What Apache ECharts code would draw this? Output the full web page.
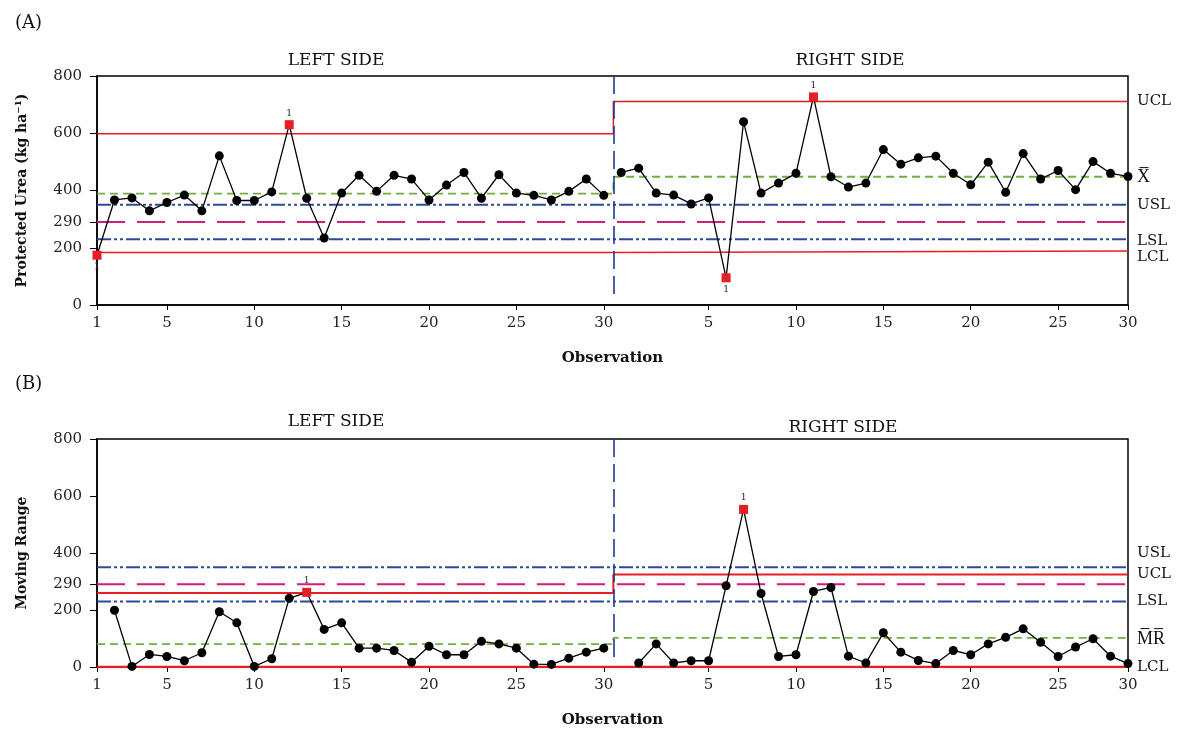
<!DOCTYPE html>
<html lang="en">
<head>
<meta charset="utf-8">
<script src="https://cdn.jsdelivr.net/npm/echarts@6/dist/echarts.min.js"></script>
<style>
  html, body { margin: 0; padding: 0; background: #fff; }
  #chart { width: 1179px; height: 729px; }
</style>
</head>
<body>
<div id="chart"></div>
<script>
// (A) protected urea, individual observations, left / right side
var leftObs  = [174, 367, 374, 329, 358, 384, 329, 521, 365, 365, 395, 630, 373, 234, 391,
                453, 397, 453, 440, 367, 419, 463, 373, 455, 391, 383, 367, 397, 440, 383];
var rightObs = [463, 478, 391, 384, 353, 374, 95, 640, 391, 426, 460, 727, 448, 412, 426,
                543, 492, 514, 520, 460, 420, 499, 394, 529, 440, 470, 403, 501, 460, 449];
// (B) moving ranges, start at observation 2 of each side
var leftMR  = [199, 2, 44, 37, 22, 50, 194, 155, 2, 29, 241, 262, 132, 155, 66,
               66, 58, 17, 73, 43, 43, 90, 81, 66, 10, 9, 31, 52, 66];
var rightMR = [14, 81, 14, 22, 22, 285, 553, 258, 37, 43, 265, 279, 38, 14, 120,
               52, 23, 12, 58, 43, 81, 104, 134, 87, 37, 70, 99, 38, 12];

// out of control observations (number on that side)
var flagsA = { left: [1, 12], right: [7, 12] };
var flagsB = { left: [13], right: [8] };

// control limits  [left, right]
var limA = { ucl: [598, 711], cl: [389, 448], lcl: [183, 189] };
var limB = { ucl: [260, 325], cl: [80, 102], lcl: [0, 0] };
// spec limits, same on both sides
var USL = 350, TARGET = 290, LSL = 230;

// axis ticks
var yTicks = [0, 200, 290, 400, 600, 800];
var xTickPos  = [1, 5, 10, 15, 20, 25, 30, 36, 41, 46, 51, 56, 60];
var xTickText = ['1', '5', '10', '15', '20', '25', '30', '5', '10', '15', '20', '25', '30'];

var SPLIT = 30.55;   // where the left side stops and the right starts
var XMAX = 60;
var FONT = '"DejaVu Serif", "Liberation Serif", serif';
var FONT_BAR = '"Liberation Serif", "DejaVu Serif", serif';  // overline renders cleaner here
var RED = '#e61e25', GREEN = '#72ad3e', BLUE = '#2d4a9a', PINK = '#d81b78', NAVY = '#1c3b8c';

var chart = echarts.init(document.getElementById('chart'));

function pointData(vals, firstObs, offset, flags, center) {
    return vals.map(function (v, i) {
        var obs = firstObs + i;
        var d = { value: [obs + offset, v] };
        if (flags.indexOf(obs) >= 0) {
            d.symbol = 'rect';
            d.itemStyle = { color: RED };
            d.label = {
                show: true, formatter: '1', position: v > center ? 'top' : 'bottom',
                distance: 2, fontSize: 10, color: '#333', fontFamily: FONT
            };
        }
        return d;
    });
}

function dataSeries(gi, vals, firstObs, offset, flags, center) {
    return {
        type: 'line', xAxisIndex: gi, yAxisIndex: gi, z: 5,
        data: pointData(vals, firstObs, offset, flags, center),
        symbol: 'circle', symbolSize: 9,
        itemStyle: { color: '#000' },
        lineStyle: { color: '#000', width: 1.3 },
        silent: true, animation: false
    };
}

function endLbl(name, dy, font, size) {
    return {
        show: true, formatter: name, color: '#111', fontSize: size || 15, fontFamily: font || FONT,
        distance: 9, offset: [0, dy || 0]
    };
}

function stepLine(gi, pair, color, dash, width, name, dy, font, size) {
    var s = {
        type: 'line', xAxisIndex: gi, yAxisIndex: gi, z: 3,
        data: [[1, pair[0]], [SPLIT, pair[0]], [SPLIT, pair[1]], [XMAX, pair[1]]],
        symbol: 'none', silent: true, animation: false,
        lineStyle: { color: color, type: dash, width: width }
    };
    if (name) s.endLabel = endLbl(name, dy, font, size);
    return s;
}

function flatLine(gi, v, color, dash, name, dy) {
    return stepLine(gi, [v, v], color, dash, 2, name, dy);
}

var DASHDOT = [14, 3, 3, 3, 3, 3];
var series = [];
// panel A
series.push(flatLine(0, USL, BLUE, DASHDOT, 'USL', 0));
series.push(flatLine(0, TARGET, PINK, [28, 12], null));
series.push(flatLine(0, LSL, BLUE, DASHDOT, 'LSL', 2));
series.push(stepLine(0, limA.ucl, RED, 'solid', 1.5, 'UCL', 0));
series.push(stepLine(0, limA.cl, GREEN, [8, 5], 1.8, 'X\u0305', 1, FONT_BAR, 18));
series.push(stepLine(0, limA.lcl, RED, 'solid', 1.5, 'LCL', 6));
series.push(dataSeries(0, leftObs, 1, 0, flagsA.left, limA.cl[0]));
series.push(dataSeries(0, rightObs, 1, 30, flagsA.right, limA.cl[1]));
// panel B
series.push(flatLine(1, USL, BLUE, DASHDOT, 'USL', -14));
series.push(flatLine(1, TARGET, PINK, [28, 12], null));
series.push(flatLine(1, LSL, BLUE, DASHDOT, 'LSL', 0));
series.push(stepLine(1, limB.ucl, RED, 'solid', 2, 'UCL', 0));
series.push(stepLine(1, limB.cl, GREEN, [8, 5], 1.8, 'M\u0305R\u0305', 1, FONT_BAR, 18));
series.push(stepLine(1, limB.lcl, RED, 'solid', 2.5, 'LCL', 0));
series.push(dataSeries(1, leftMR, 2, 0, flagsB.left, limB.cl[0]));
series.push(dataSeries(1, rightMR, 2, 30, flagsB.right, limB.cl[1]));

// stage separators, stop a little above the x axis
[0, 1].forEach(function (gi) {
    series.push({
        type: 'line', xAxisIndex: gi, yAxisIndex: gi, data: [], silent: true, z: 4,
        markLine: {
            symbol: 'none', silent: true, animation: false, label: { show: false },
            lineStyle: { color: NAVY, type: [18, 7], width: 1.6 },
            data: [[{ coord: [SPLIT, 800] }, { coord: [SPLIT, 28] }]]
        }
    });
});

function xAxis(gi) {
    return {
        type: 'value', gridIndex: gi, min: 1, max: XMAX,
        axisLine: { lineStyle: { color: '#000', width: 1.5 } },
        axisTick: { customValues: xTickPos, length: 5, lineStyle: { color: '#000' } },
        axisLabel: {
            customValues: xTickPos, margin: 11, color: '#222', fontSize: 15, fontFamily: FONT,
            formatter: function (v) { return xTickText[xTickPos.indexOf(v)]; }
        },
        splitLine: { show: false },
        name: 'Observation', nameLocation: 'middle', nameGap: 46,
        nameTextStyle: { color: '#111', fontSize: 15, fontWeight: 'bold', fontFamily: FONT }
    };
}

function yAxis(gi, name) {
    return {
        type: 'value', gridIndex: gi, min: 0, max: 800,
        axisLine: { show: true, lineStyle: { color: '#000', width: 1.5 } },
        axisTick: { show: true, customValues: yTicks, length: 7, lineStyle: { color: '#000' } },
        axisLabel: { customValues: yTicks, margin: 15, color: '#222', fontSize: 15, fontFamily: FONT },
        splitLine: { show: false },
        name: name, nameLocation: 'middle', nameGap: 68, nameRotate: 90,
        nameTextStyle: { color: '#111', fontSize: 14, fontWeight: 'bold', fontFamily: FONT }
    };
}

function txt(text, left, top, size, align) {
    return {
        text: text, left: left, top: top, textAlign: align || 'left',
        textStyle: { fontFamily: FONT, fontWeight: 'normal', fontSize: size, color: '#111' }
    };
}

chart.setOption({
    backgroundColor: '#fff',
    animation: false,
    title: [
        txt('(A)', 10, 9, 18),
        txt('LEFT SIDE', 331, 47, 17, 'center'),
        txt('RIGHT SIDE', 845, 47, 17, 'center'),
        txt('(B)', 10, 370, 18),
        txt('LEFT SIDE', 331, 408, 17, 'center'),
        txt('RIGHT SIDE', 838, 414, 17, 'center')
    ],
    grid: [
        { left: 97, right: 51, top: 76, height: 229, show: true, borderColor: '#000', borderWidth: 1.5 },
        { left: 97, right: 51, top: 439, height: 229, show: true, borderColor: '#000', borderWidth: 1.5 }
    ],
    xAxis: [xAxis(0), xAxis(1)],
    yAxis: [yAxis(0, 'Protected Urea (kg ha\u207B\u00B9)'), yAxis(1, 'Moving Range')],
    series: series
});
</script>
</body>
</html>
